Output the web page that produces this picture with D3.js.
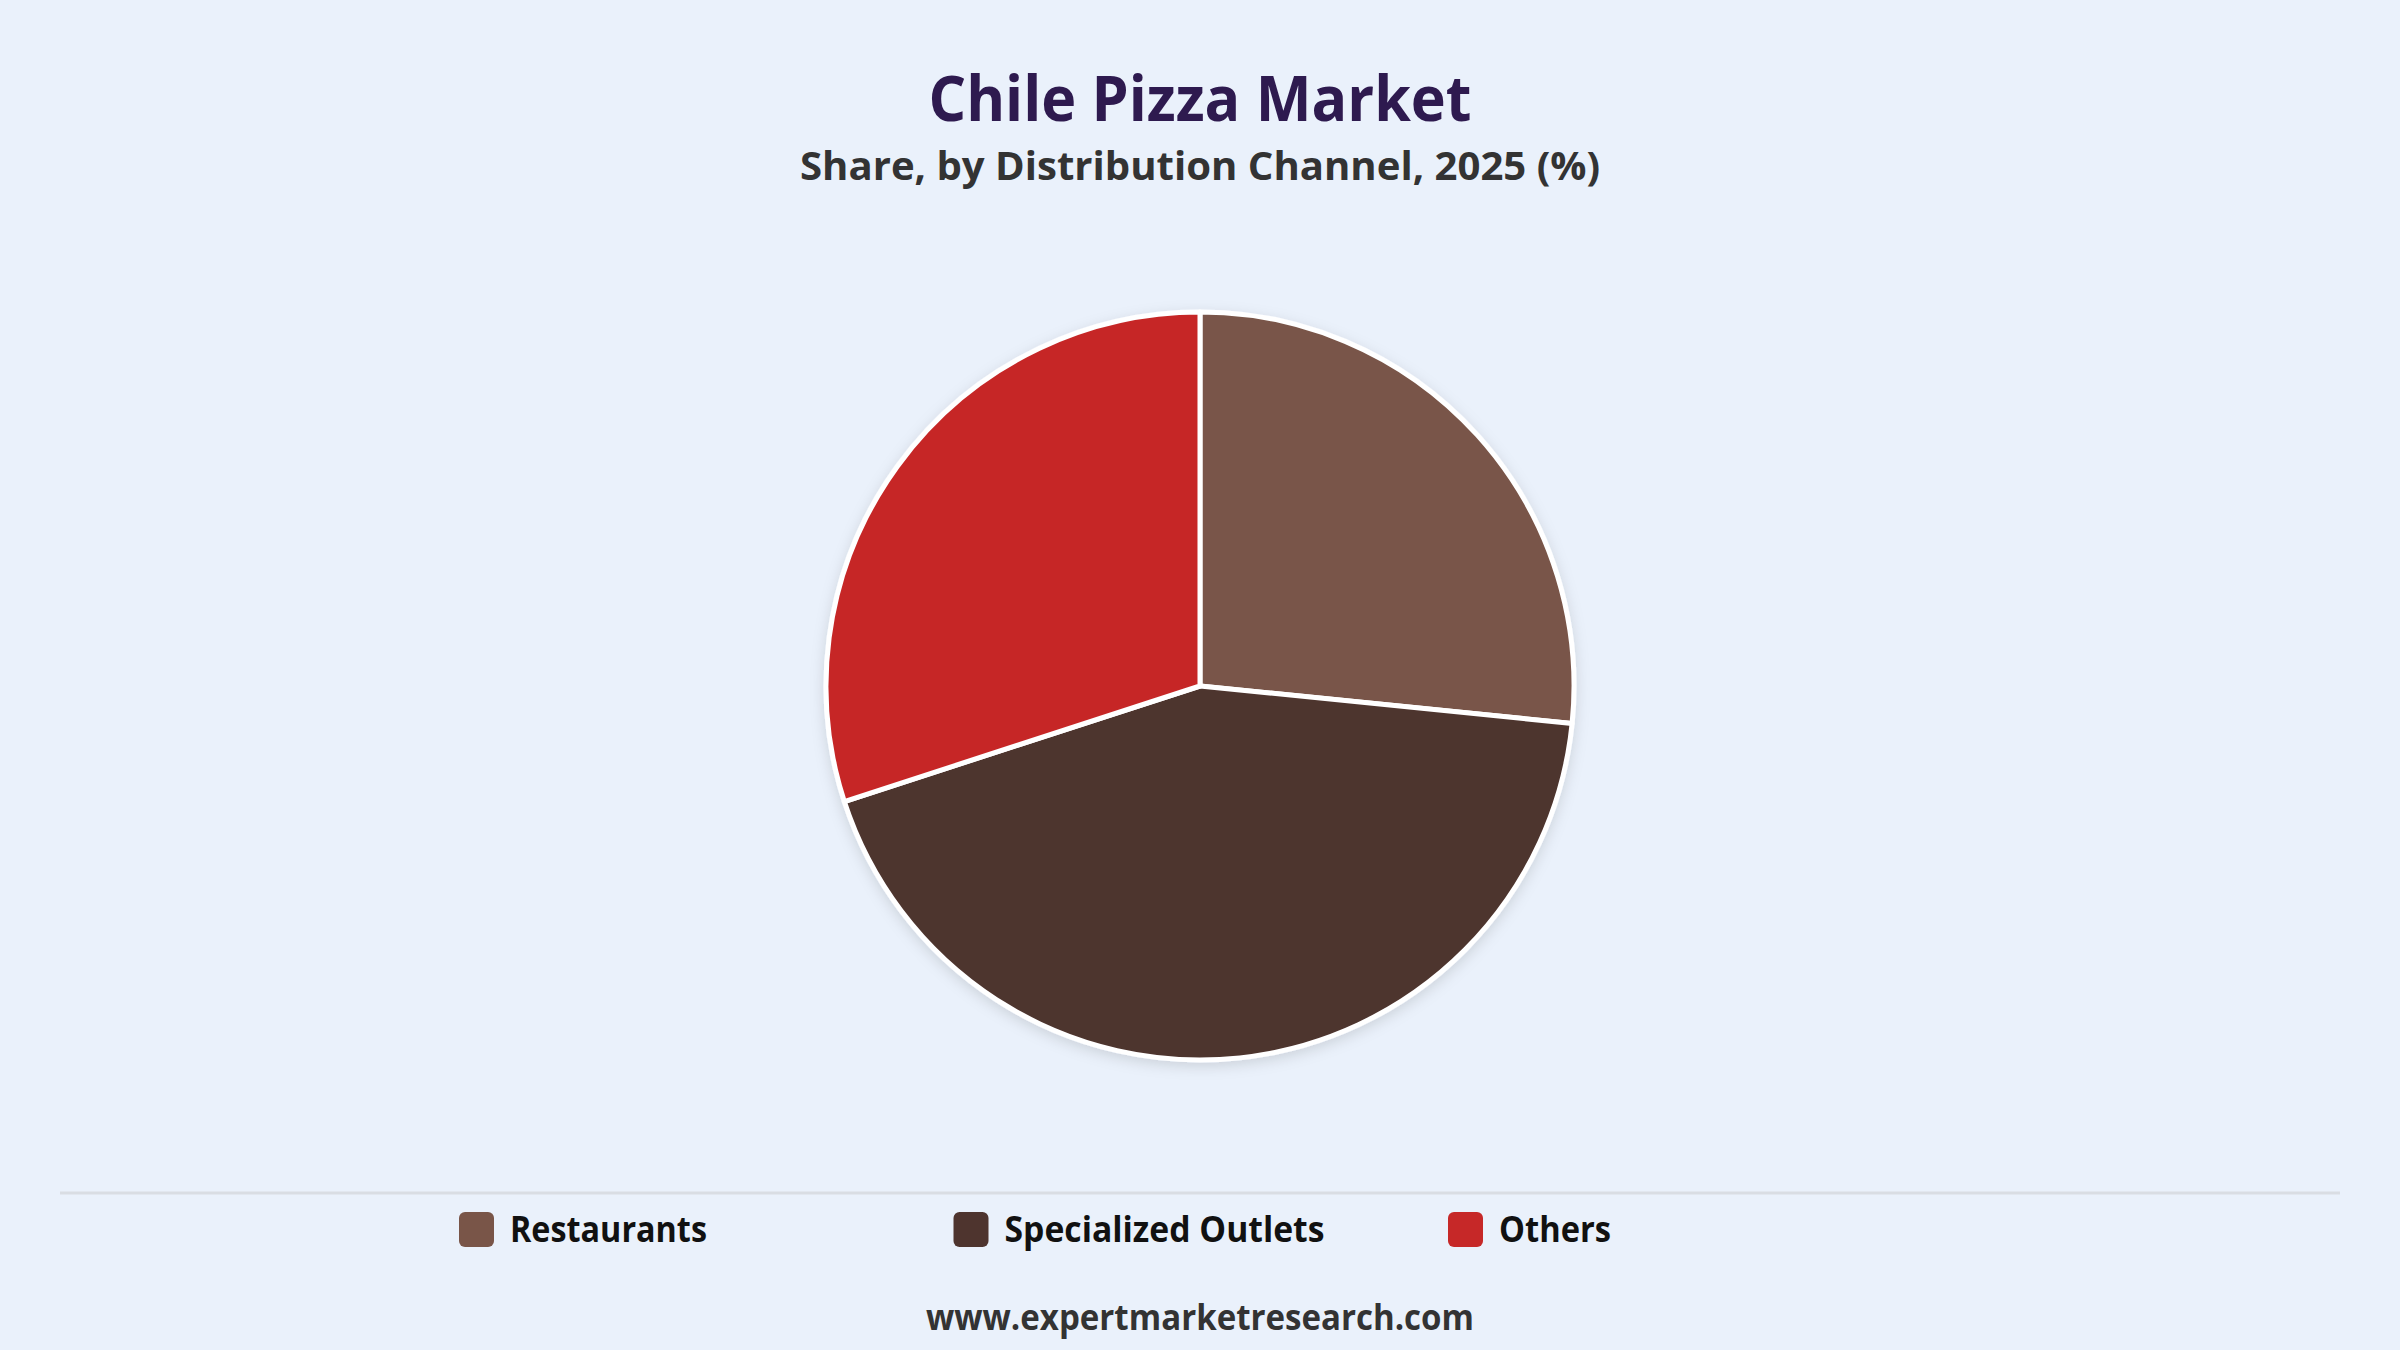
<!DOCTYPE html>
<html>
<head>
<meta charset="utf-8">
<script src="https://cdn.jsdelivr.net/npm/d3@7"></script>
<style>
  html, body { margin: 0; padding: 0; background: #eaf1fb; }
  svg { display: block; }
  text { font-family: "Open Sans", "Noto Sans", sans-serif; font-weight: 700; }
</style>
</head>
<body>
<svg id="chart" width="2400" height="1350"></svg>
<script>
const categories = ["Restaurants", "Specialized Outlets", "Others"];
const shares = [26.6, 43.4, 30.0];
const colors = ["#795548", "#4e342e", "#c62828"];
const titleText = "Chile Pizza Market";
const subtitleText = "Share, by Distribution Channel, 2025 (%)";
const footerText = "www.expertmarketresearch.com";

const W = 2400, H = 1350;
const svg = d3.select("#chart");
svg.append("rect").attr("width", W).attr("height", H).attr("fill", "#eaf1fb");

const defs = svg.append("defs");
const f = defs.append("filter").attr("id", "shadow").attr("x", "-20%").attr("y", "-20%").attr("width", "140%").attr("height", "140%");
f.append("feDropShadow").attr("dx", 0).attr("dy", 4).attr("stdDeviation", 7)
  .attr("flood-color", "#000").attr("flood-opacity", 0.13);

function fitText(sel, width) {
  sel.attr("textLength", width).attr("lengthAdjust", "spacingAndGlyphs");
}

// Title
svg.append("text").attr("x", 1200).attr("y", 121).attr("text-anchor", "middle")
  .attr("font-size", 62).attr("font-weight", 800).attr("fill", "#2e1a4f").text(titleText).call(fitText, 543);
svg.append("text").attr("x", 1200).attr("y", 180).attr("text-anchor", "middle")
  .attr("font-size", 40).attr("fill", "#333333").text(subtitleText).call(fitText, 800);

// Pie
const cx = 1200, cy = 686, R = 374;
const data = categories.map((c, i) => ({ name: c, value: shares[i], color: colors[i] }));
const pie = d3.pie().sort(null).value(d => d.value).startAngle(0).endAngle(2 * Math.PI);
const arc = d3.arc().innerRadius(0).outerRadius(R);
const g = svg.append("g").attr("transform", `translate(${cx},${cy})`).attr("filter", "url(#shadow)");
g.selectAll("path").data(pie(data)).join("path")
  .attr("d", arc)
  .attr("fill", d => d.data.color)
  .attr("stroke", "#ffffff")
  .attr("stroke-width", 5)
  .attr("stroke-linejoin", "round");

// Separator
svg.append("line").attr("x1", 60).attr("x2", 2340).attr("y1", 1193).attr("y2", 1193)
  .attr("stroke", "#d9dde3").attr("stroke-width", 3);

// Legend
const legendX = d3.scalePoint().domain(categories).range([459, 1448]);
const legendTextW = [197, 320, 112];
const lg = svg.append("g").selectAll("g").data(data).join("g")
  .attr("transform", d => `translate(${legendX(d.name)},1212)`);
lg.append("rect").attr("width", 35).attr("height", 35).attr("rx", 6).attr("ry", 6)
  .attr("fill", d => d.color);
lg.append("text").attr("x", 51).attr("y", 30).attr("font-size", 35).attr("fill", "#111111")
  .text(d => d.name)
  .each(function(d, i) { d3.select(this).call(fitText, legendTextW[i]); });

// Footer
svg.append("text").attr("x", 1200).attr("y", 1330).attr("text-anchor", "middle")
  .attr("font-size", 36).attr("fill", "#333333").text(footerText).call(fitText, 548);
</script>
</body>
</html>
